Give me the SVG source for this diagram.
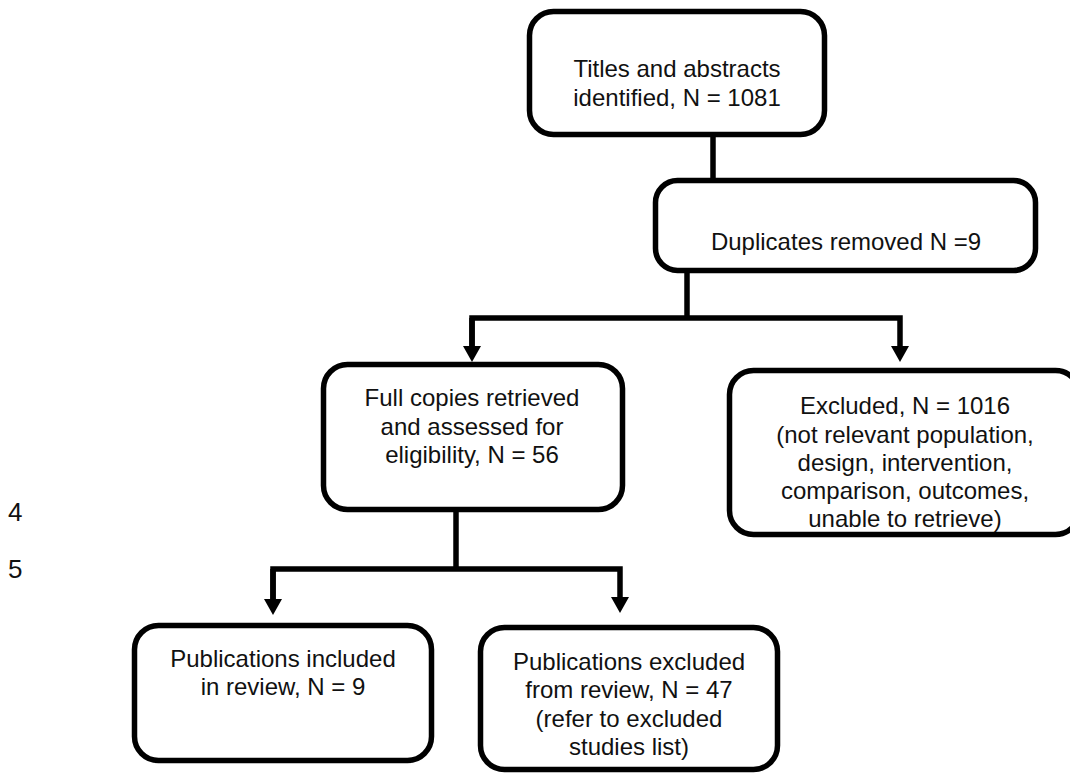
<svg xmlns="http://www.w3.org/2000/svg" width="1070" height="774" viewBox="0 0 1070 774">
  <style>
    .box { fill: #ffffff; stroke: #000000; stroke-width: 5.5; }
    .lbl { font-family: "Liberation Sans", Arial, sans-serif; font-size: 24px; fill: #111111; text-anchor: middle; }
    .num { font-family: "Liberation Sans", Arial, sans-serif; font-size: 26px; fill: #111111; }
    .conn { fill: none; stroke: #000000; stroke-width: 5.5; stroke-linejoin: miter; }
  </style>
  <defs>
    <marker id="arrow" markerUnits="userSpaceOnUse" markerWidth="16" markerHeight="18" viewBox="0 0 16 18" refX="0" refY="9" orient="auto">
      <path d="M0,0 L16,9 L0,18 z" fill="#000000"/>
    </marker>
  </defs>
  <rect width="1070" height="774" fill="#ffffff"/>

  <g id="line-numbers">
    <text class="num" x="8" y="521">4</text>
    <text class="num" x="8" y="578">5</text>
  </g>

  <g id="connectors">
    <path class="conn" d="M713,137 V178"/>
    <path class="conn" d="M687,273 V318"/>
    <path class="conn" d="M472,346 V318 H900 V346" marker-end="url(#arrow)"/>
    <path class="conn" d="M472,318 V346" marker-end="url(#arrow)"/>
    <path class="conn" d="M456,512 V569"/>
    <path class="conn" d="M273,599 V569 H620 V597" marker-end="url(#arrow)"/>
    <path class="conn" d="M273,569 V599" marker-end="url(#arrow)"/>
  </g>

  <g id="node-titles">
    <rect class="box" x="529.5" y="11.5" width="295" height="123" rx="24"/>
    <text class="lbl" x="677" y="77">Titles and abstracts</text>
    <text class="lbl" x="677" y="106">identified, N = 1081</text>
  </g>

  <g id="node-duplicates">
    <rect class="box" x="655.5" y="180.5" width="380" height="90" rx="22"/>
    <text class="lbl" x="846" y="250">Duplicates removed N =9</text>
  </g>

  <g id="node-fullcopies">
    <rect class="box" x="323.5" y="364.5" width="299" height="145" rx="24"/>
    <text class="lbl" x="472" y="406">Full copies retrieved</text>
    <text class="lbl" x="472" y="435">and assessed for</text>
    <text class="lbl" x="472" y="463">eligibility, N = 56</text>
  </g>

  <g id="node-excluded">
    <rect class="box" x="729.5" y="370.5" width="350" height="164" rx="24"/>
    <text class="lbl" x="905" y="414">Excluded, N = 1016</text>
    <text class="lbl" x="905" y="443">(not relevant population,</text>
    <text class="lbl" x="905" y="471">design, intervention,</text>
    <text class="lbl" x="905" y="499">comparison, outcomes,</text>
    <text class="lbl" x="905" y="527">unable to retrieve)</text>
  </g>

  <g id="node-included">
    <rect class="box" x="134.5" y="625.5" width="297" height="135" rx="24"/>
    <text class="lbl" x="283" y="667">Publications included</text>
    <text class="lbl" x="283" y="695">in review, N = 9</text>
  </g>

  <g id="node-pubexcluded">
    <rect class="box" x="480.5" y="627.5" width="297" height="142" rx="24"/>
    <text class="lbl" x="629" y="670">Publications excluded</text>
    <text class="lbl" x="629" y="698">from review, N = 47</text>
    <text class="lbl" x="629" y="727">(refer to excluded</text>
    <text class="lbl" x="629" y="755">studies list)</text>
  </g>
</svg>
